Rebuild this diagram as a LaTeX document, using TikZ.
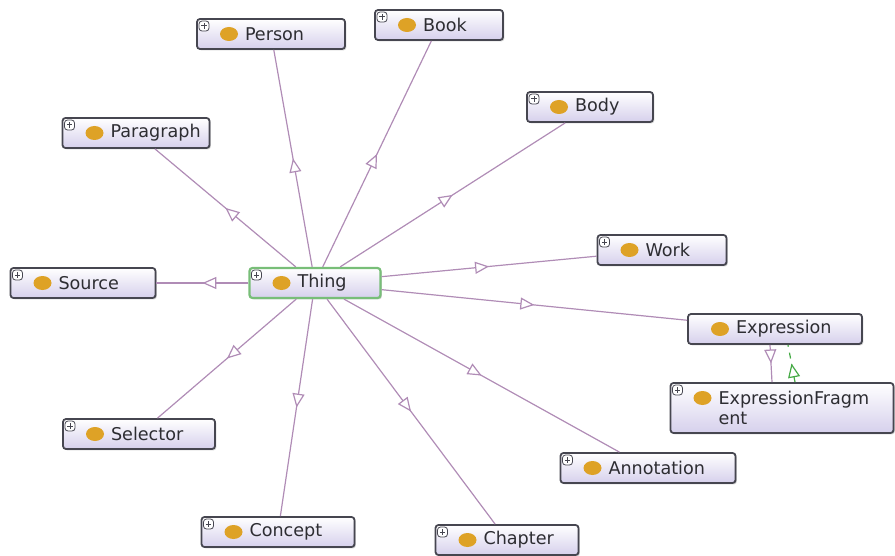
\documentclass[tikz,border=0pt]{standalone}
\usepackage{fontspec}
\setmainfont{DejaVu Sans}
\usetikzlibrary{arrows.meta,decorations.markings,shadows}
\definecolor{edgecol}{RGB}{176,140,182}
\definecolor{ballcol}{RGB}{222,162,38}
\definecolor{boxline}{RGB}{70,70,80}
\definecolor{boxfill}{RGB}{214,208,236}
\definecolor{thingline}{RGB}{120,190,120}
\definecolor{eqcol}{RGB}{70,170,70}
\definecolor{txtcol}{RGB}{45,45,50}
\begin{document}
\begin{tikzpicture}[x=0.5pt,y=-0.5pt]
    \tikzstyle{cls}=[draw=boxline, line width=0.9pt, rounded corners=1.5pt,
        top color=white, bottom color=boxfill, text=txtcol,
        font=\fontsize{8.8}{10}\selectfont, inner xsep=2pt, inner ysep=2pt,
        minimum height=15pt,
        drop shadow={shadow xshift=0.7pt, shadow yshift=-0.7pt, opacity=0.35},
        execute at begin node={\leftskip=22pt},
        path picture={
            \fill[ballcol] ([xshift=16pt,yshift=-7.5pt]path picture bounding box.north west) ellipse (4.5pt and 3.5pt);
            \draw[boxline, fill=white, line width=0.4pt] ([xshift=1pt,yshift=-1pt]path picture bounding box.north west) rectangle ++(5pt,-5pt);
            \draw[boxline, line width=0.5pt] ([xshift=2.2pt,yshift=-3.5pt]path picture bounding box.north west) -- ++(2.6pt,0pt)
                ([xshift=3.5pt,yshift=-2.2pt]path picture bounding box.north west) -- ++(0pt,-2.6pt);
        }];
    \tikzstyle{noplus}=[path picture={
            \fill[ballcol] ([xshift=16pt,yshift=-7.5pt]path picture bounding box.north west) ellipse (4.5pt and 3.5pt);
        }];
    \tikzstyle{isa}=[draw=edgecol, line width=0.6pt, postaction={decorate},
        decoration={markings, mark=at position 0.5 with {\arrow{Triangle[open, length=7pt, width=6pt, fill=white]}}}];
    \tikzstyle{equiv}=[draw=eqcol, line width=0.6pt, dashed, postaction={decorate},
        decoration={markings, mark=at position 0.5 with {\arrow{Triangle[open, length=7pt, width=6pt, fill=white]}}}];

    \useasboundingbox (0,0) rectangle (895,556);

    \node (thing) [cls, draw=thingline, line width=1.1pt, text width=61.5pt] at (315,283) {Thing};
    \node (person) [cls, text width=70pt] at (271,34) {Person};
    \node (book) [cls, text width=60pt] at (439,25) {Book};
    \node (body) [cls, text width=59pt] at (590,107) {Body};
    \node (paragraph) [cls, text width=69.5pt] at (136,133) {Paragraph};
    \node (work) [cls, text width=60.5pt] at (662,250) {Work};
    \node (source) [cls, text width=68.5pt] at (83,283) {Source};
    \node (expression) [cls, noplus, text width=83pt] at (775,329) {Expression};
    \node (fragment) [cls, text width=107.5pt, minimum height=25pt] at (782,408) {ExpressionFragm\\ent};
    \node (selector) [cls, text width=72pt] at (139,434) {Selector};
    \node (annotation) [cls, text width=83.5pt] at (648,468) {Annotation};
    \node (concept) [cls, text width=72.5pt] at (278,532) {Concept};
    \node (chapter) [cls, text width=67.5pt] at (507,540) {Chapter};

    \foreach \n in {person,book,body,paragraph,work,source,expression,selector,annotation,concept,chapter}{
        \draw[isa] (thing) -- (\n);
    }

    \draw[isa] ([xshift=-2.5pt]expression.south) -- ([xshift=-5pt]fragment.north);
    \draw[equiv] ([xshift=6.5pt]fragment.north) -- ([xshift=6.5pt]expression.south);

\end{tikzpicture}
\end{document}
